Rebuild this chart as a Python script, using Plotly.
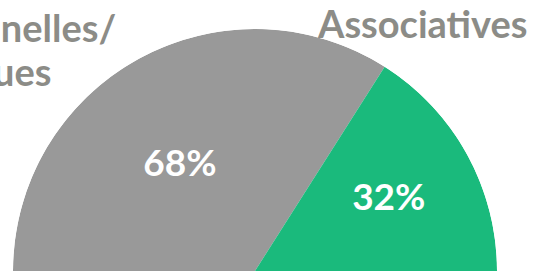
import plotly.graph_objects as go

categories = ["Institutionnelles/ Publiques", "Associatives"]
values = [68, 32]
colors = ["#999999", "#1aba7c"]
label_lines = [["Institutionnelles/", "Publiques"], ["Associatives"]]

total = sum(values)
span = 180.0
# angles: start at 180 (left) going clockwise to 0 (right)
widths, centers = [], []
cur = 180.0
for v in values:
    w = v / total * span
    widths.append(w)
    centers.append(cur - w / 2)
    cur -= w

fig = go.Figure()
fig.add_trace(go.Barpolar(
    r=[1] * len(values),
    theta=centers,
    width=widths,
    marker=dict(color=colors, line=dict(width=0)),
    hoverinfo="skip",
))

label_r = [0.53, 0.625]
label_dtheta = [7, -1]
fig.add_trace(go.Scatterpolar(
    r=label_r,
    theta=[c + d for c, d in zip(centers, label_dtheta)],
    mode="text",
    text=[f"{v}%" for v in values],
    textfont=dict(family="Lato", size=37, color="white", weight="bold"),
    hoverinfo="skip",
))

fig.update_layout(
    width=538, height=271,
    margin=dict(l=0, r=0, t=0, b=0),
    paper_bgcolor="white",
    showlegend=False,
    polar=dict(
        domain=dict(x=[13 / 538, 497 / 538], y=[0, 1 - 29 / 271]),
        sector=[0, 180],
        bgcolor="rgba(0,0,0,0)",
        hole=0,
        bargap=0,
        radialaxis=dict(visible=False, range=[0, 1]),
        angularaxis=dict(visible=False, direction="counterclockwise", rotation=0),
    ),
)

txt_font = dict(family="Lato", size=38, color="#8c8c87", weight="bold")
# left label lines (cut off by left edge, as in the reference)
fig.add_annotation(text=label_lines[0][0], x=118 / 538, y=1 - 27 / 271, xref="paper", yref="paper",
                   xanchor="right", yanchor="middle", showarrow=False, font=txt_font)
fig.add_annotation(text=label_lines[0][1], x=54 / 538, y=1 - 71 / 271, xref="paper", yref="paper",
                   xanchor="right", yanchor="middle", showarrow=False, font=txt_font)
fig.add_annotation(text=label_lines[1][0], x=422 / 538, y=1 - 23 / 271, xref="paper", yref="paper",
                   xanchor="center", yanchor="middle", showarrow=False, font=txt_font)

fig.write_html("out.html", config={"displayModeBar": False},
               post_script="document.body.style.margin='0';document.body.style.overflow='hidden';")
